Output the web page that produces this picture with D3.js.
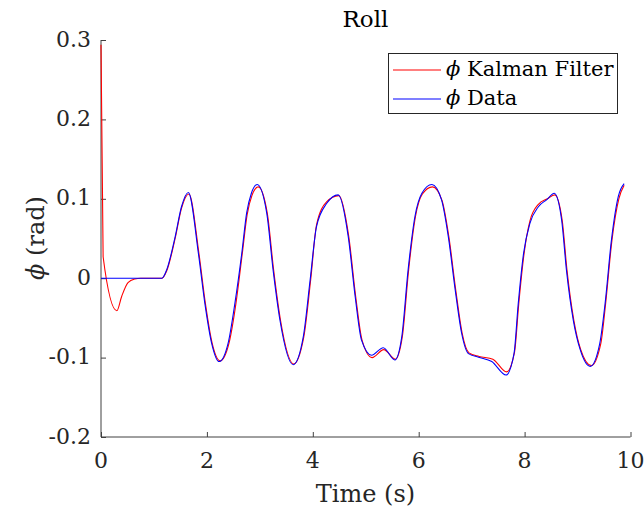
<!DOCTYPE html>
<html>
<head>
<meta charset="utf-8">
<script src="https://cdn.jsdelivr.net/npm/d3@7"></script>
<style>
  body { margin: 0; background: #fff; }
</style>
</head>
<body>
<svg width="644" height="510"></svg>
<script>
// kalman filter estimate (red)
const kfTime = [0, 0.04, 0.30, 0.39, 0.51, 0.64, 0.75, 1.15, 1.24, 1.40, 1.52, 1.66, 1.85, 1.97, 2.10, 2.25,
  2.42, 2.55, 2.67, 2.76, 2.85, 2.97, 3.14, 3.26, 3.39, 3.64, 3.83, 3.96, 4.07, 4.26, 4.49, 4.68, 4.81, 4.93,
  5.12, 5.34, 5.56, 5.69, 5.81, 5.94, 6.07, 6.26, 6.44, 6.57, 6.70, 6.82, 6.95, 7.14, 7.40, 7.66, 7.81, 7.89,
  7.99, 8.10, 8.26, 8.43, 8.57, 8.71, 8.80, 8.93, 9.06, 9.26, 9.44, 9.53, 9.65, 9.78, 9.88];
const kfPhi = [0.294, 0.027, -0.041, -0.023, -0.0055, -0.001, 0, 0, 0.009, 0.050, 0.088, 0.106, 0.031, -0.031, -0.082, -0.104,
  -0.081, -0.031, 0.032, 0.080, 0.104, 0.115, 0.082, 0.0105, -0.053, -0.108, -0.074, -0.002, 0.067, 0.096, 0.104, 0.052, -0.023, -0.078,
  -0.100, -0.090, -0.102, -0.074, 0.0105, 0.078, 0.106, 0.115, 0.098, 0.052, -0.015, -0.069, -0.094, -0.0985, -0.102, -0.118, -0.093, -0.032,
  0.031, 0.072, 0.093, 0.100, 0.105, 0.073, 0.0105, -0.053, -0.090, -0.110, -0.082, -0.032, 0.048, 0.100, 0.117];

// measured data (blue)
const dataTime = [0, 1.15, 1.24, 1.40, 1.52, 1.65, 1.84, 1.96, 2.09, 2.23, 2.40, 2.53, 2.66, 2.75, 2.84, 2.95,
  3.13, 3.25, 3.38, 3.63, 3.82, 3.95, 4.07, 4.26, 4.48, 4.67, 4.80, 4.92, 5.11, 5.33, 5.55, 5.68, 5.80, 5.93,
  6.06, 6.25, 6.43, 6.56, 6.69, 6.81, 6.94, 7.13, 7.38, 7.65, 7.80, 7.88, 7.98, 8.10, 8.26, 8.42, 8.56, 8.70,
  8.79, 8.92, 9.05, 9.24, 9.42, 9.52, 9.64, 9.77, 9.88];
const dataPhi = [0, 0, 0.0105, 0.052, 0.090, 0.108, 0.031, -0.031, -0.082, -0.105, -0.082, -0.031, 0.032, 0.082, 0.107, 0.118,
  0.082, 0.0105, -0.053, -0.109, -0.074, -0.002, 0.065, 0.094, 0.105, 0.052, -0.023, -0.078, -0.097, -0.0875, -0.103, -0.074, 0.0105, 0.078,
  0.107, 0.118, 0.099, 0.052, -0.015, -0.069, -0.095, -0.0995, -0.105, -0.122, -0.095, -0.032, 0.031, 0.069, 0.090, 0.099, 0.107, 0.073,
  0.0105, -0.053, -0.090, -0.111, -0.082, -0.032, 0.048, 0.103, 0.119];

const xTicks = [0, 2, 4, 6, 8, 10];
const yTicks = [-0.2, -0.1, 0, 0.1, 0.2, 0.3];
const yTickLabels = ["-0.2", "-0.1", "0", "0.1", "0.2", "0.3"];

const svg = d3.select("svg")
  .attr("font-family", "'DejaVu Serif', serif");
const axisColor = "#404040";
const textColor = "#262626";

let x = d3.scaleLinear().domain([0, 10]).range([101, 630.5]);
let y = d3.scaleLinear().domain([-0.2, 0.3]).range([437, 40]);

// axes, ticks pointing inward
svg.append("g")
  .attr("transform", "translate(0,437)")
  .call(d3.axisBottom(x).tickValues(xTicks).tickSize(-5).tickFormat(""))
  .call(g => g.select(".domain").attr("stroke", axisColor).attr("d", "M101,0H630.5"))
  .call(g => g.selectAll(".tick line").attr("stroke", axisColor));

svg.append("g")
  .attr("transform", "translate(101,0)")
  .call(d3.axisLeft(y).tickValues(yTicks).tickSize(-5).tickFormat(""))
  .call(g => g.select(".domain").attr("stroke", axisColor).attr("d", "M0,437V40"))
  .call(g => g.selectAll(".tick line").attr("stroke", axisColor));

// tick labels
svg.selectAll(".xlab")
  .data(xTicks)
  .enter().append("text")
  .attr("x", d => x(d))
  .attr("y", 468)
  .attr("text-anchor", "middle")
  .attr("font-size", 22)
  .attr("fill", textColor)
  .text(d => d);

svg.selectAll(".ylab")
  .data(yTicks)
  .enter().append("text")
  .attr("x", 91)
  .attr("y", d => y(d) + 6.5)
  .attr("text-anchor", "end")
  .attr("font-size", 22)
  .attr("fill", textColor)
  .text((d, i) => yTickLabels[i]);

// lines
const kf = kfTime.map((t, i) => [t, kfPhi[i]]);
const meas = dataTime.map((t, i) => [t, dataPhi[i]]);
const line = d3.line().x(d => x(d[0])).y(d => y(d[1])).curve(d3.curveMonotoneX);

svg.append("path")
  .attr("d", line(kf))
  .attr("fill", "none")
  .attr("stroke", "#ff0000")
  .attr("stroke-width", 1.1);

svg.append("path")
  .attr("d", line(meas))
  .attr("fill", "none")
  .attr("stroke", "#0000ff")
  .attr("stroke-width", 1.1);

// title and labels
svg.append("text")
  .attr("x", 365.5)
  .attr("y", 27)
  .attr("text-anchor", "middle")
  .attr("font-size", 23)
  .attr("fill", "#000")
  .text("Roll");

svg.append("text")
  .attr("x", 365.5)
  .attr("y", 502)
  .attr("text-anchor", "middle")
  .attr("font-size", 24)
  .attr("fill", textColor)
  .text("Time (s)");

let ylab = svg.append("text")
  .attr("transform", "translate(44,238) rotate(-90)")
  .attr("text-anchor", "middle")
  .attr("font-size", 24)
  .attr("fill", textColor);
ylab.append("tspan").attr("font-style", "italic").text("ϕ");
ylab.append("tspan").text(" (rad)");

// legend
const legendNames = ["Kalman Filter", "Data"];
const legendColors = ["#ff0000", "#0000ff"];

svg.append("rect")
  .attr("x", 388.5)
  .attr("y", 53.5)
  .attr("width", 229)
  .attr("height", 60)
  .attr("fill", "#fff")
  .attr("stroke", "#262626")
  .attr("stroke-width", 1);

legendNames.forEach((name, i) => {
  let ly = 70 + i * 29;
  svg.append("line")
    .attr("x1", 393).attr("x2", 441)
    .attr("y1", ly).attr("y2", ly)
    .attr("stroke", legendColors[i])
    .attr("stroke-width", 1.1);
  let t = svg.append("text")
    .attr("x", 446)
    .attr("y", ly + 6)
    .attr("font-size", 21)
    .attr("fill", "#000");
  t.append("tspan").attr("font-style", "italic").text("ϕ");
  t.append("tspan").text(" " + name);
});
</script>
</body>
</html>
